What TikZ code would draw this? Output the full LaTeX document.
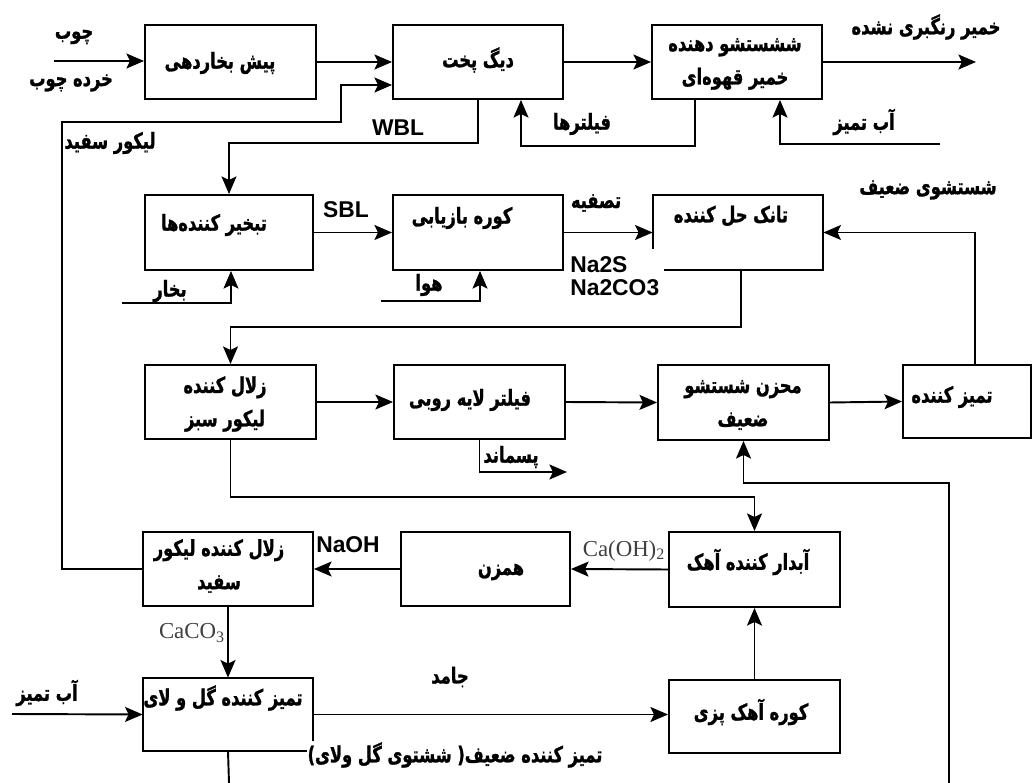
\documentclass[tikz,border=0pt]{standalone}
\usepackage{fontspec}
\setmainfont{Liberation Sans}
\newfontfamily\fa[Script=Arabic,FakeStretch=0.74,BoldFeatures={FakeBold=1.2}]{DejaVu Sans}
\newfontfamily\tms{Liberation Serif}
\TeXXeTstate=1
\newcommand{\rl}[1]{\beginR #1\endR}
\usetikzlibrary{arrows.meta,fit,calc}
\tikzset{
  box/.style={draw, line width=1.1pt, inner sep=0pt},
  gbox/.style={inner sep=0pt},
  fa/.style={font=\fa\bfseries\fontsize{12.5}{19}\selectfont, align=center, inner sep=0pt},
  lat/.style={font=\bfseries\fontsize{13}{15}\selectfont, inner sep=0pt},
  chem/.style={font=\tms\fontsize{13}{15}\selectfont, text=black!75, inner sep=0pt},
  ln/.style={line width=1.1pt},
  arr/.style={line width=1.1pt, -{Stealth[length=10pt,width=8.5pt,inset=2pt]}}
}
\begin{document}
\begin{tikzpicture}[x=0.02cm,y=-0.02cm]
\useasboundingbox (0,0) rectangle (1034,783);
% boxes
\node[box, fit={(145,25) (316,99)}] (B1) {};
\node[box, fit={(393,25) (563,99)}] (B2) {};
\node[box, fit={(652,25) (822,99)}] (B3) {};
\node[box, fit={(145,195) (313,270)}] (B4) {};
\node[box, fit={(393,195) (563,270)}] (B5) {};
\node[gbox, fit={(653,195) (823,270)}] (B6) {};
\node[box, fit={(145,365) (316,439)}] (B7) {};
\node[box, fit={(394,365) (565,439)}] (B8) {};
\node[box, fit={(658,365) (829,440)}] (B9) {};
\node[box, fit={(903,365) (1031,438)}] (B10) {};
\node[box, fit={(143,532) (313,606)}] (B11) {};
\node[box, fit={(401,532) (570,606)}] (B12) {};
\node[box, fit={(669,532) (840,607)}] (B13) {};
\node[gbox, fit={(143,678) (313,751)}] (B14) {};
\node[box, fit={(669,680) (840,753)}] (B15) {};
% broken outlines
\draw[ln] ($(B6.south west)+(0,-21)$) -- (B6.north west) -- (B6.north east) -- (B6.south east) -- ($(B6.south west)+(11,0)$);
\draw[ln] ($(B14.south east)+(0,-10)$) -- (B14.north east) -- (B14.north west) -- (B14.south west) -- ($(B14.south east)+(-6,0)$);
% box texts
\node[fa] (T1) at (220,63) {\rl{پیش بخاردهی}};
\node[fa] (T2) at (478,60) {\rl{دیگ پخت}};
\node[fa] (T3) at (735,64) {\rl{ششستشو دهنده}\\\rl{خمیر قهوه‌ای}};
\node[fa] (T4) at (214,225) {\rl{تبخیر کننده‌ها}};
\node[fa] (T5) at (462,218) {\rl{کوره بازیابی}};
\node[fa] (T6) at (731,216) {\rl{تانک حل کننده}};
\node[fa] (T7) at (225,404) {\rl{زلال  کننده}\\\rl{لیکور سبز}};
\node[fa] (T8) at (470,400) {\rl{فیلتر لایه روبی}};
\node[fa] (T9) at (743,405) {\rl{محزن شستشو}\\\rl{ضعیف}};
\node[fa] (T10) at (952,397) {\rl{تمیز کننده}};
\node[fa] (T11) at (219,566) {\rl{زلال کننده لیکور}\\\rl{سفید}};
\node[fa] (T12) at (501,572) {\rl{همزن}};
\node[fa] (T13) at (748,562) {\rl{آبدار کننده آهک}};
\node[fa] (T14) at (223,698) {\rl{تمیز کننده گل و لای}};
\node[fa] (T15) at (751,712) {\rl{کوره آهک پزی}};
% labels
\node[fa] (Lw1) at (74,37) {\rl{چوب}};
\node[fa] (Lw2) at (71,83) {\rl{خرده چوب}};
\node[fa] (Lwl) at (110,143) {\rl{لیکور سفید}};
\node[lat] (Lwbl) at (398,128) {WBL};
\node[fa] (Lfil) at (582,124) {\rl{فیلترها}};
\node[fa] (Lcw1) at (864,122) {\rl{آب تمیز}};
\node[fa] (Lout) at (926,27) {\rl{خمیر رنگبری نشده}};
\node[fa] (Lst) at (170,291) {\rl{بخار}};
\node[lat] (Lsbl) at (346,210) {SBL};
\node[fa] (Lair) at (429,285) {\rl{هوا}};
\node[fa] (Lcl) at (596,203) {\rl{تصفیه}};
\node[lat, anchor=west] (Lna1) at (570,265) {Na2S};
\node[lat, anchor=west] (Lna2) at (570,288) {Na2CO3};
\node[fa] (Lww) at (928,190) {\rl{شستشوی ضعیف}};
\node[fa] (Lres) at (511,457) {\rl{پسماند}};
\node[lat] (Lnaoh) at (348,545) {NaOH};
\node[chem] (Lcaoh) at (624,551) {Ca(OH)\textsubscript{2}};
\node[chem] (Lcaco) at (192,633) {CaCO\textsubscript{3}};
\node[fa] (Lcw2) at (47,693) {\rl{آب تمیز}};
\node[fa] (Lsol) at (450,677) {\rl{جامد}};
\node[fa] (Lbot) at (455,755) {\rl{تمیز کننده ضعیف( ششتوی گل ولای)}};
% free ends
\coordinate (in1) at (54,61);
\coordinate (out1) at (976,62);
\coordinate (cw1) at (940,144);
\coordinate (st1) at (122,303);
\coordinate (air1) at (381,301);
\coordinate (res1) at (567,472);
\coordinate (cw2) at (12,714);
\coordinate (bot1) at (229,783);
\coordinate (bot2) at (949,783);
% connectors
\draw[arr] (in1) -- (B1.west |- in1);
\draw[arr] (B1.east) -- (B2.west);
\draw[arr] (B2.east) -- (B3.west);
\draw[arr] (B3.east) -- (out1);
\draw[arr] (B11.west) -- (62,569) -- (62,122) -- (341,122) -- (341,85) -- (B2.west |- 0,85);
\draw[arr] (B2.south) -- ++(0,43) -| (B4.north);
\draw[arr] ($(B3.south)+(-42,0)$) -- ++(0,46) -| ($(B2.south)+(43,0)$);
\draw[arr] (cw1) -| ($(B3.south)+(43,0)$);
\draw[arr] (st1) -| ($(B4.south)+(2,0)$);
\draw[arr] (B4.east) -- (B5.west);
\draw[arr] (air1) -| ($(B5.south)+(2,0)$);
\draw[arr] (B5.east) -- (B6.west);
\draw[arr] ($(B6.south)+(3,0)$) -- ++(0,57) -| (B7.north);
\draw[arr] ($(B10.north)+(8,0)$) |- (B6.east);
\draw[arr] (B7.east) -- (B8.west);
\draw[arr] (B8.east) -- (B9.west);
\draw[arr] (B9.east) -- (B10.west);
\draw[arr] (B8.south) |- (res1);
\draw[arr] (B7.south) -- ++(0,57) -| (B13.north);
\draw[arr] (bot2) -- (949,483) -| (B9.south);
\draw[arr] (B13.west) -- (B12.east);
\draw[arr] (B12.west) -- (B11.east);
\draw[arr] (B11.south) -- (B14.north);
\draw[arr] (cw2) -- (B14.west);
\draw[arr] (B14.east) -- (B14.east -| B15.west);
\draw[arr] (B15.north) -- (B13.south);
\draw[ln] (B14.south) -- (bot1);
\end{tikzpicture}
\end{document}
